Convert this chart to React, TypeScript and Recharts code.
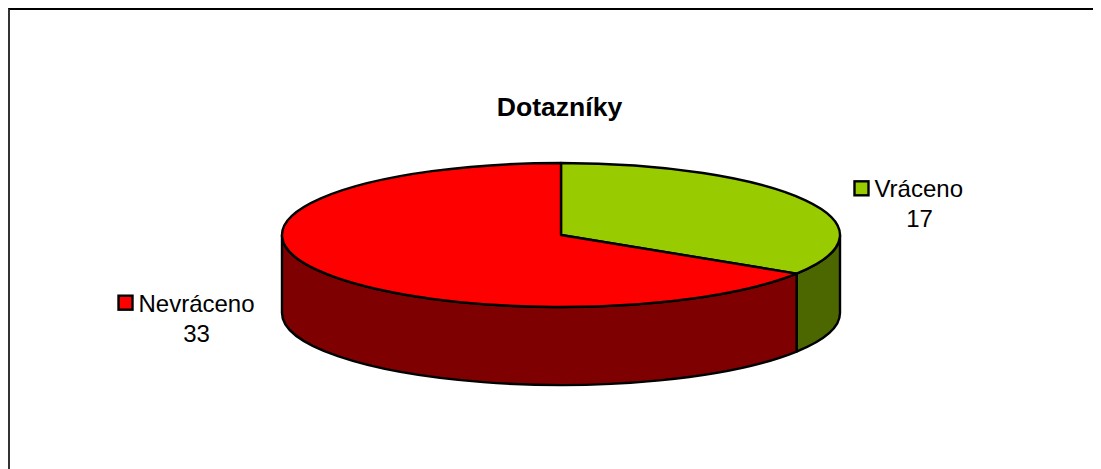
import React from 'react';
import { PieChart, Pie, Cell } from 'recharts';

const categories = ['Vráceno', 'Nevráceno'];
const values = [17, 33];
const topColors = ['#99CC00', '#FF0000'];
const sideColors = ['#4C6600', '#7F0000'];
const chartTitle = 'Dotazníky';

const data = categories.map((name, i) => ({ name, value: values[i] }));

const CHART_W = 1093;
const CHART_H = 461;
const CX = 553;
const CY = 227;
const RX = 279;
const SQUASH = 72 / 279;
const DEPTH = 78;
const labelOffsets = [
  { dx: 104, dy: 3 },
  { dx: -130, dy: 48 },
];
const FONT = '"Liberation Sans", Arial, sans-serif';

const rad = Math.PI / 180;
const pt = (cx: number, cy: number, r: number, a: number, dy = 0) => ({
  x: cx + r * Math.cos(a * rad),
  y: cy - r * SQUASH * Math.sin(a * rad) + dy,
});

function Sector3D(props: any) {
  const { cx, cy, outerRadius: r, startAngle, endAngle, index, fill } = props;
  const ry = r * SQUASH;
  const s = pt(cx, cy, r, startAngle);
  const e = pt(cx, cy, r, endAngle);
  const large = Math.abs(startAngle - endAngle) > 180 ? 1 : 0;
  const top = `M${cx},${cy} L${s.x},${s.y} A${r},${ry} 0 ${large} 1 ${e.x},${e.y} Z`;
  // The wall shows only on the front half of the rim (recharts angles 0 to -180).
  const hi = Math.min(startAngle > 0 ? 0 : startAngle, 0);
  const lo = Math.max(endAngle, -180);
  const w1 = pt(cx, cy, r, hi);
  const w2 = pt(cx, cy, r, lo);
  const wall = `M${w1.x},${w1.y} A${r},${ry} 0 0 1 ${w2.x},${w2.y} L${w2.x},${w2.y + DEPTH} A${r},${ry} 0 0 0 ${w1.x},${w1.y + DEPTH} Z`;
  return (
    <g>
      <path d={wall} fill={sideColors[index]} stroke="#000" strokeWidth={2.4} strokeLinejoin="round" />
      <path d={top} fill={fill} stroke="#000" strokeWidth={2.4} strokeLinejoin="round" />
    </g>
  );
}

function SliceLabel(props: any) {
  const { cx, cy, outerRadius, midAngle, index, name, value } = props;
  const p = pt(cx, cy, outerRadius, midAngle);
  const off = labelOffsets[index];
  const x = p.x + off.dx;
  const y = p.y + off.dy;
  const textW = index === 0 ? 90 : 116;
  const left = x - (textW + 20) / 2;
  return (
    <g fontFamily={FONT} fontSize={24} fill="#000">
      <rect x={left} y={y - 22} width={14} height={14} fill={topColors[index]} stroke="#000" strokeWidth={2.4} />
      <text x={left + 20} y={y - 6}>{name}</text>
      <text x={left + 20 + textW / 2} y={y + 24} textAnchor="middle">{value}</text>
    </g>
  );
}

export default function App() {
  return (
    <div
      style={{
        width: CHART_W,
        height: CHART_H,
        overflow: 'hidden',
        boxSizing: 'border-box',
        background: '#fff',
        borderTop: '2px solid #000',
        borderLeft: '2px solid #333',
      }}
    >
      <div style={{ marginLeft: -2, marginTop: -2 }}>
        <PieChart width={CHART_W} height={CHART_H} margin={{ top: 0, right: 0, bottom: 0, left: 0 }}>
          <text x={551.5} y={108} textAnchor="middle" fontFamily={FONT} fontSize={26.6} fontWeight="bold" fill="#000">
            {chartTitle}
          </text>
          <Pie
            data={data}
            dataKey="value"
            nameKey="name"
            cx={CX}
            cy={CY}
            innerRadius={0}
            outerRadius={RX}
            startAngle={90}
            endAngle={-270}
            paddingAngle={0}
            isAnimationActive={false}
            shape={Sector3D}
            label={SliceLabel}
            labelLine={false}
          >
            {data.map((d, i) => (
              <Cell key={d.name} fill={topColors[i]} />
            ))}
          </Pie>
        </PieChart>
      </div>
    </div>
  );
}
